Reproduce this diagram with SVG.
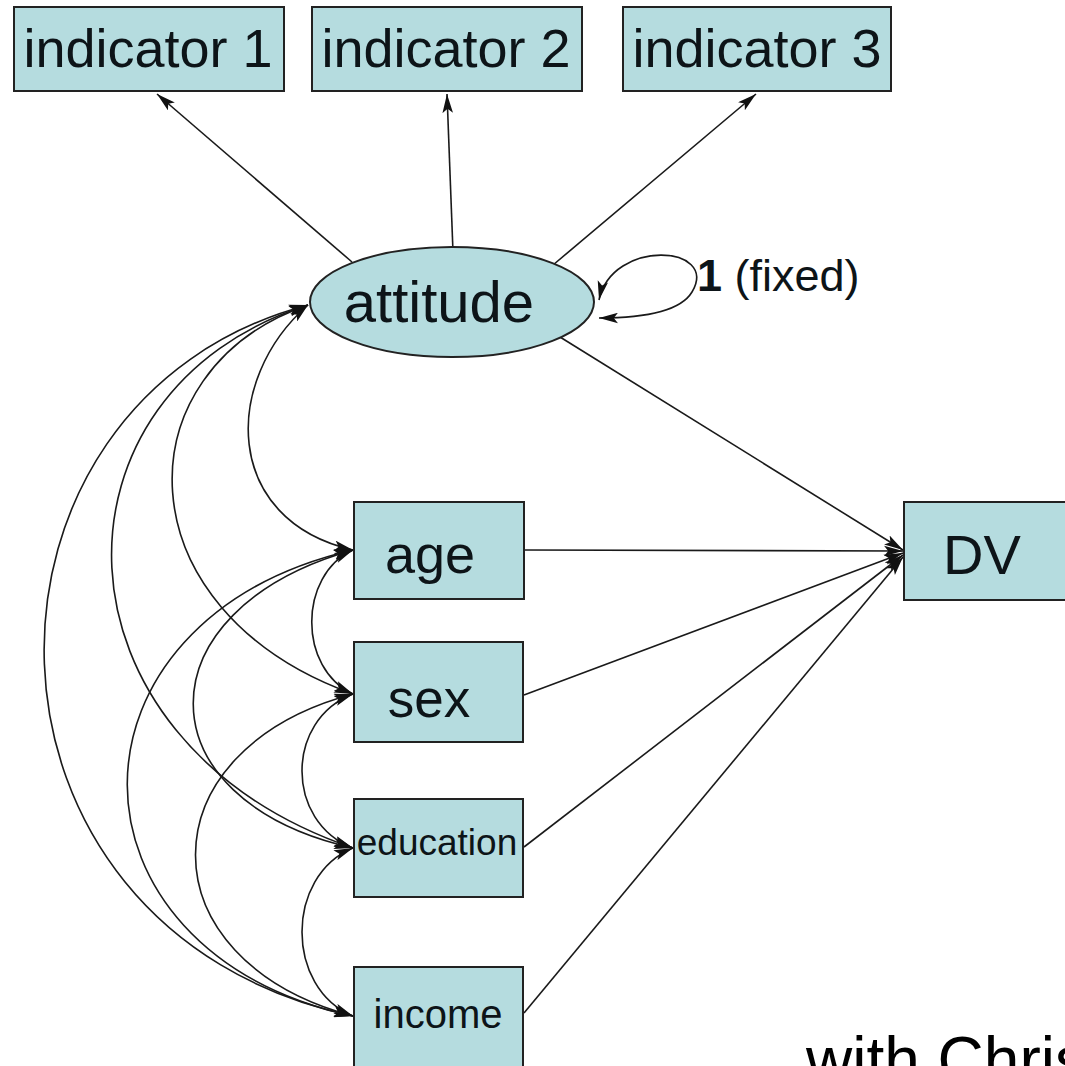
<svg xmlns="http://www.w3.org/2000/svg" width="1065" height="1066" viewBox="0 0 1065 1066">
  <defs>
    <marker id="ah" viewBox="0 0 18 10" refX="18" refY="5" markerWidth="19" markerHeight="11" markerUnits="userSpaceOnUse" orient="auto-start-reverse">
      <path d="M0,0 L18,5 L0,10 L4,5 z" fill="#111"/>
    </marker>
    <style>
      .box { fill: #B5DCDF; stroke: #222; stroke-width: 2; }
      .lbl { font-family: "Liberation Sans", Arial, sans-serif; fill: #0d1418; text-anchor: middle; }
      .path { fill: none; stroke: #1a1a1a; stroke-width: 1.6; marker-end: url(#ah); }
      .cov { fill: none; stroke: #1a1a1a; stroke-width: 1.6; marker-start: url(#ah); marker-end: url(#ah); }
    </style>
  </defs>
  <rect width="1065" height="1066" fill="#ffffff"/>

  <!-- connectors: loadings, regressions, covariances -->
  <g id="connectors">
    <!-- attitude to its indicators -->
    <line class="path" x1="352" y1="262" x2="157" y2="94"/>
    <line class="path" x1="453" y1="252" x2="447" y2="94"/>
    <line class="path" x1="553" y1="265" x2="756" y2="94"/>
    <!-- regressions on DV -->
    <line class="path" x1="560" y1="337" x2="903" y2="550"/>
    <line class="path" x1="524" y1="550" x2="903" y2="551"/>
    <line class="path" x1="524" y1="695" x2="903" y2="553"/>
    <line class="path" x1="524" y1="847" x2="903" y2="555"/>
    <line class="path" x1="524" y1="1013" x2="903" y2="557"/>
    <!-- variance of attitude fixed to 1 -->
    <path class="cov" d="M599,300 C612,238 720,245 692,292 C680,312 640,318 599,318"/>
    <!-- covariances with attitude -->
    <path class="cov" d="M308,305 C222,380 222,520 353,550"/>
    <path class="cov" d="M308,305 C120,370 120,610 353,694"/>
    <path class="cov" d="M308,305 C39,390 39,740 353,848"/>
    <path class="cov" d="M308,305 C-51,400 -51,930 353,1016"/>
    <!-- covariances among observed predictors -->
    <path class="cov" d="M353,550 C298,575 298,669 353,694"/>
    <path class="cov" d="M353,694 C285,720 285,822 353,848"/>
    <path class="cov" d="M353,848 C285,876 285,988 353,1016"/>
    <path class="cov" d="M353,550 C140,610 140,800 353,848"/>
    <path class="cov" d="M353,694 C143,750 143,960 353,1016"/>
    <path class="cov" d="M353,550 C52,620 52,950 353,1016"/>
  </g>

  <g id="indicator1">
    <rect class="box" x="14" y="7" width="270" height="84"/>
    <text class="lbl" x="148" y="67" font-size="54">indicator 1</text>
  </g>
  <g id="indicator2">
    <rect class="box" x="312" y="7" width="270" height="84"/>
    <text class="lbl" x="446" y="67" font-size="54">indicator 2</text>
  </g>
  <g id="indicator3">
    <rect class="box" x="623" y="7" width="268" height="84"/>
    <text class="lbl" x="757" y="67" font-size="54">indicator 3</text>
  </g>

  <g id="attitude">
    <ellipse class="box" cx="452" cy="302" rx="142" ry="55"/>
    <text class="lbl" x="439" y="322" font-size="58">attitude</text>
  </g>
  <text class="lbl" x="697" y="291" font-size="45" style="text-anchor:start"><tspan font-weight="bold">1</tspan> (fixed)</text>

  <g id="age">
    <rect class="box" x="354" y="502" width="170" height="97"/>
    <text class="lbl" x="430" y="573" font-size="54">age</text>
  </g>
  <g id="sex">
    <rect class="box" x="354" y="642" width="169" height="100"/>
    <text class="lbl" x="429" y="717" font-size="53">sex</text>
  </g>
  <g id="education">
    <rect class="box" x="354" y="799" width="169" height="98"/>
    <text class="lbl" x="437" y="855" font-size="37">education</text>
  </g>
  <g id="income">
    <rect class="box" x="354" y="967" width="169" height="113"/>
    <text class="lbl" x="438" y="1028" font-size="40">income</text>
  </g>
  <g id="DV">
    <rect class="box" x="904" y="502" width="175" height="98"/>
    <text class="lbl" x="982" y="574" font-size="56">DV</text>
  </g>

  <text x="806" y="1082" font-family="'Liberation Sans', Arial, sans-serif" font-size="64" fill="#000">with Chris</text>
</svg>
